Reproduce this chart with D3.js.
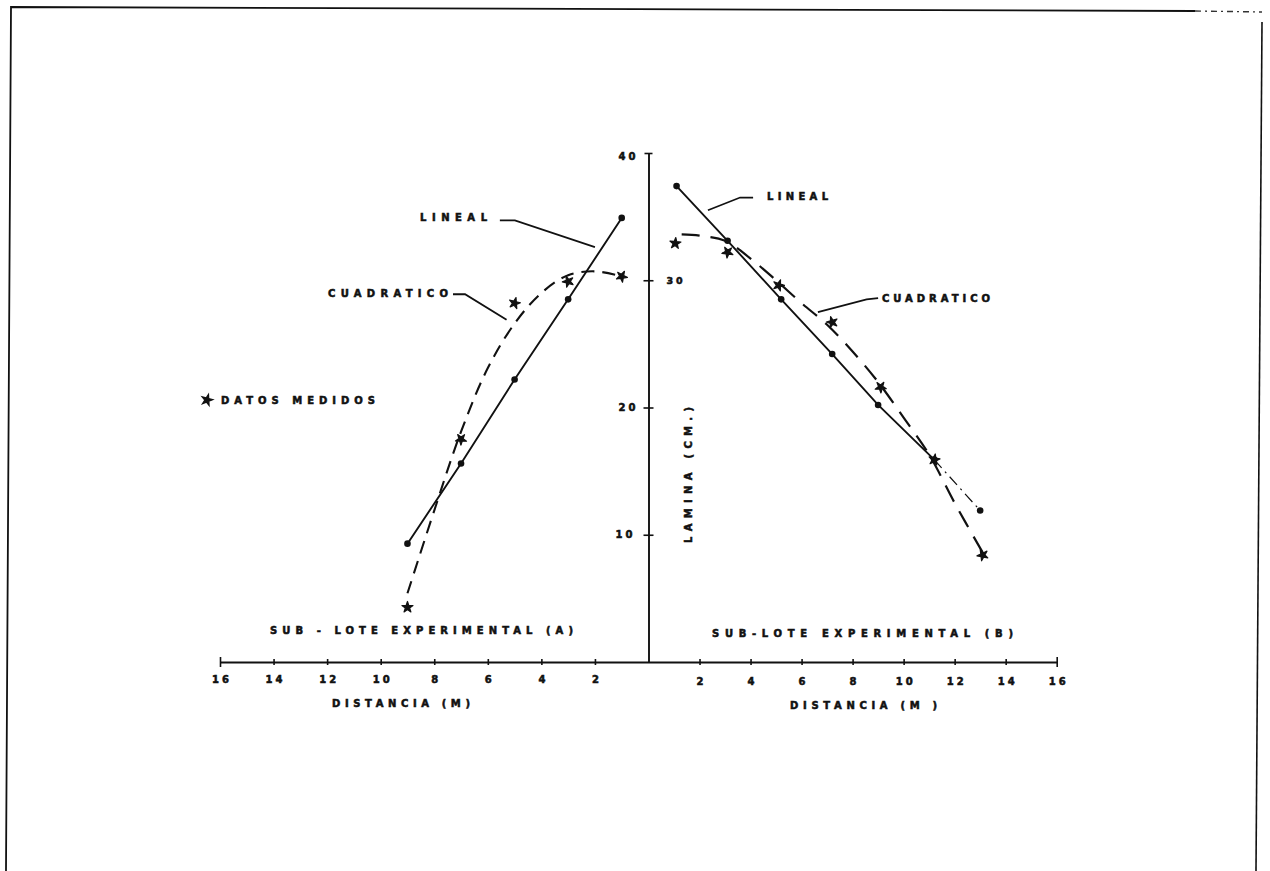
<!DOCTYPE html>
<html><head><meta charset="utf-8">
<script src="https://cdn.jsdelivr.net/npm/d3@7"></script>
<style>
html,body{margin:0;padding:0;background:#fff;}
svg{display:block;}
text{font-family:"DejaVu Sans",sans-serif;font-weight:bold;fill:#111;stroke:#111;stroke-width:0.55px;}
</style></head><body>
<script>
// ---------- DATA ----------
// Sub-lote A (left panel, distance grows to the left)
const distA      = [9, 7, 5, 3, 1];
const linearA    = [9.3, 15.6, 22.2, 28.5, 34.9];
const measuredA  = [4.3, 17.5, 28.2, 29.9, 30.3];
const quadDistA  = [9, 8, 7, 6, 5, 4, 3, 2, 1];
const quadA      = [5.4, 11.9, 18.1, 23.1, 26.6, 29.0, 30.4, 30.7, 30.3];
// Sub-lote B (right panel)
const distB          = [1.1, 3.1, 5.2, 7.2, 9.0, 11.2, 13.0];
const linearB        = [37.4, 33.1, 28.5, 24.2, 20.2, 15.9, 11.9];
const measuredDistB  = [1.05, 3.1, 5.1, 7.2, 9.1, 11.2, 13.1];
const measuredB      = [32.9, 32.2, 29.6, 26.7, 21.6, 15.9, 8.4];
const quadDistB      = [1.3, 2, 3, 4, 5, 6, 7, 8, 9, 10, 11, 12, 13.1];
const quadB          = [33.6, 33.5, 33.1, 31.7, 30.0, 28.2, 26.5, 24.4, 22.0, 19.2, 16.3, 12.5, 8.6];
// ticks
const xTickValues = [2, 4, 6, 8, 10, 12, 14, 16];
const yTickValues = [10, 20, 30, 40];

// ---------- LAYOUT ----------
const W = 1270, H = 871;
const svg = d3.select("body").append("svg").attr("width", W).attr("height", H);

const x0 = 648.5, yBase = 662;
const xA = d3.scaleLinear().domain([0, 16]).range([x0, 220]);
const xB = d3.scaleLinear().domain([0, 16]).range([x0, 1056.7]);
const y  = d3.scaleLinear().domain([0, 40]).range([yBase, 153]);

// frame (scanned page border)
svg.append("path")
  .attr("d", "M6,871 L11,7 L1195,11")
  .attr("fill", "none").attr("stroke", "#111").attr("stroke-width", 1.8);
svg.append("path")
  .attr("d", "M1195,11 L1262,12")
  .attr("fill", "none").attr("stroke", "#333").attr("stroke-width", 1.4)
  .attr("stroke-dasharray", "6,4,2,4");
svg.append("path")
  .attr("d", "M1262,22 L1256,871")
  .attr("fill", "none").attr("stroke", "#111").attr("stroke-width", 1.6);

// ---------- AXES ----------
function styleX(g) {
  g.select(".domain").attr("stroke", "#111").attr("stroke-width", 1.9);
  g.selectAll(".tick line").attr("y1", -3).attr("y2", 3).attr("stroke", "#111").attr("stroke-width", 1.6);
  g.selectAll(".tick text").attr("font-size", 10).attr("letter-spacing", "3px")
    .attr("dx", "1.5px").attr("fill", "#111");
}
const axA = svg.append("g").attr("transform", `translate(0,${yBase})`)
  .call(d3.axisBottom(xA).tickValues(xTickValues).tickFormat(d3.format("d"))
        .tickSizeInner(3).tickSizeOuter(0).tickPadding(11))
  .call(styleX);
axA.selectAll(".tick").filter(d => d === 16).select("line").attr("y1", -5).attr("y2", 5);

const axB = svg.append("g").attr("transform", `translate(0,${yBase})`)
  .call(d3.axisBottom(xB).tickValues(xTickValues).tickFormat(d3.format("d"))
        .tickSizeInner(3).tickSizeOuter(0).tickPadding(12.5))
  .call(styleX);
axB.selectAll(".tick").filter(d => d === 16).select("line").attr("y1", -5).attr("y2", 5);

const axY = svg.append("g").attr("transform", `translate(${x0},0)`)
  .call(d3.axisLeft(y).tickValues(yTickValues).tickFormat(d3.format("d"))
        .tickSizeInner(5).tickSizeOuter(0).tickPadding(5));
axY.select(".domain").attr("stroke", "#111").attr("stroke-width", 1.9);
axY.selectAll(".tick line").attr("x1", 5).attr("stroke", "#111").attr("stroke-width", 1.6);
axY.selectAll(".tick text").attr("font-size", 10).attr("letter-spacing", "3px").attr("fill", "#111");
axY.selectAll(".tick").filter(d => d === 40).select("line").attr("x1", 4).attr("x2", -4);
axY.selectAll(".tick").filter(d => d === 40).select("text").attr("dy", "0.65em");
axY.selectAll(".tick").filter(d => d === 30).select("text")
  .attr("text-anchor", "start").attr("x", 18).attr("font-size", 9.5);
axY.selectAll(".tick").filter(d => d === 10).select("text").attr("x", -13);

// ---------- SERIES ----------
function pts(xScale, ds, vs) { return ds.map((d, i) => [xScale(d), y(vs[i])]); }

const straight = d3.line();
const curved = d3.line().curve(d3.curveCatmullRom.alpha(0.5));

// Linear A
svg.append("path").attr("d", straight(pts(xA, distA, linearA)))
  .attr("fill", "none").attr("stroke", "#111").attr("stroke-width", 1.9);
// Quadratic A
svg.append("path").attr("d", curved(pts(xA, quadDistA, quadA)))
  .attr("fill", "none").attr("stroke", "#111").attr("stroke-width", 2.1)
  .attr("stroke-dasharray", "13,8");

// Linear B (solid to the last measured crossing, then dash-dot)
const pB = pts(xB, distB, linearB);
svg.append("path").attr("d", straight(pB.slice(0, pB.length - 1)))
  .attr("fill", "none").attr("stroke", "#111").attr("stroke-width", 1.9);
svg.append("path").attr("d", straight(pB.slice(pB.length - 2)))
  .attr("fill", "none").attr("stroke", "#111").attr("stroke-width", 1.2)
  .attr("stroke-dasharray", "11,5,2,5");
// Quadratic B
svg.append("path").attr("d", curved(pts(xB, quadDistB, quadB)))
  .attr("fill", "none").attr("stroke", "#111").attr("stroke-width", 2.2)
  .attr("stroke-dasharray", "18,11");

// linear points (filled dots)
svg.selectAll("circle.la").data(pts(xA, distA, linearA)).join("circle")
  .attr("cx", d => d[0]).attr("cy", d => d[1]).attr("r", 3.3).attr("fill", "#111");
svg.selectAll("circle.lb").data(pB).join("circle")
  .attr("cx", d => d[0]).attr("cy", d => d[1]).attr("r", 3.3).attr("fill", "#111");

// measured (stars)
const star = d3.symbol().type(d3.symbolStar).size(38);
const stars = pts(xA, distA, measuredA).concat(pts(xB, measuredDistB, measuredB));
svg.selectAll("path.star").data(stars).join("path").attr("class", "star")
  .attr("transform", (d, i) => `translate(${d[0]},${d[1]}) rotate(${(i * 37) % 60})`)
  .attr("d", star).attr("fill", "#111").attr("stroke", "#111").attr("stroke-width", 1.2)
  .attr("stroke-linejoin", "round");

// ---------- ANNOTATIONS ----------
// leader lines given in data units of their panel
const leaders = [
  {sc: xA, p: [[5.55, 34.7], [4.99, 34.7], [2.0, 32.6]]},
  {sc: xA, p: [[7.3, 28.9], [6.85, 28.9], [5.3, 26.9]]},
  {sc: xB, p: [[4.1, 36.5], [3.59, 36.5], [2.33, 35.5]]},
  {sc: xB, p: [[9.0, 28.6], [8.55, 28.5], [6.64, 27.5]]}
];
leaders.forEach(L => {
  svg.append("path").attr("d", straight(L.p.map(q => [L.sc(q[0]), y(q[1])])))
    .attr("fill", "none").attr("stroke", "#111").attr("stroke-width", 1.8);
});

const labels = [
  {t: "LINEAL", x: 420, y: 220.5, w: 67},
  {t: "CUADRATICO", x: 328, y: 296.5, w: 120},
  {t: "DATOS MEDIDOS", x: 221, y: 403.5, w: 154},
  {t: "LINEAL", x: 767, y: 199.5, w: 61},
  {t: "CUADRATICO", x: 882, y: 301.5, w: 108},
  {t: "SUB - LOTE EXPERIMENTAL (A)", x: 270, y: 633.5, w: 303},
  {t: "SUB-LOTE EXPERIMENTAL (B)", x: 712, y: 636.5, w: 301},
  {t: "DISTANCIA (M)", x: 332, y: 706.5, w: 138},
  {t: "DISTANCIA (M )", x: 790, y: 708.5, w: 147}
];
svg.selectAll("text.lab").data(labels).join("text").attr("class", "lab")
  .attr("x", d => d.x).attr("y", d => d.y)
  .attr("font-size", 10)
  .attr("textLength", d => d.w).attr("lengthAdjust", "spacing")
  .text(d => d.t);

// legend star
svg.append("path").attr("transform", "translate(207,400) rotate(15)")
  .attr("d", star).attr("fill", "#111").attr("stroke", "#111").attr("stroke-width", 1.2);

// vertical axis title
svg.append("text").attr("transform", "translate(692,543) rotate(-90)")
  .attr("font-size", 10).attr("textLength", 136).attr("lengthAdjust", "spacing")
  .text("LAMINA (CM.)");
</script>
</body></html>
